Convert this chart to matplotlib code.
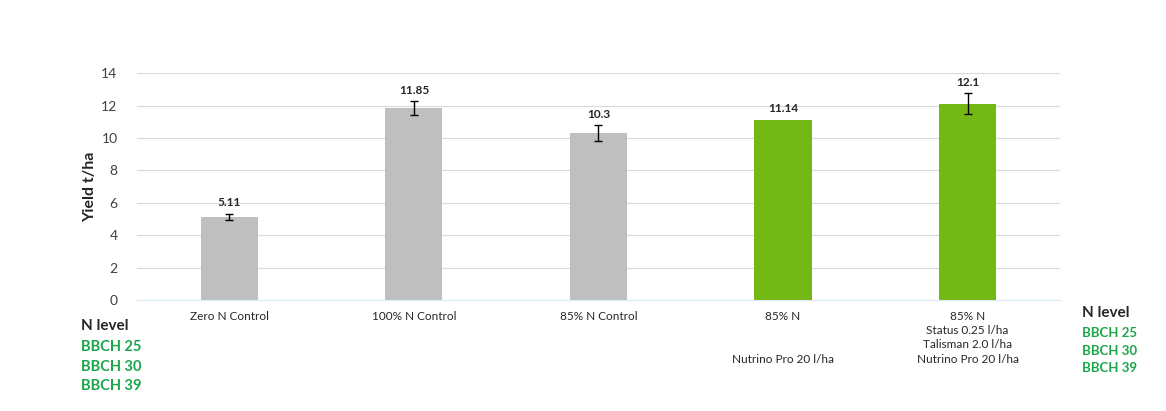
import numpy as np
import matplotlib.pyplot as plt

plt.rcParams['font.family'] = ['Lato', 'DejaVu Sans']

# Yield data
categories = ["Zero N Control", "100% N Control", "85% N Control", "85% N\n\n\nNutrino Pro 20 l/ha",
              "85% N\nStatus 0.25 l/ha\nTalisman 2.0 l/ha\nNutrino Pro 20 l/ha"]
yields = [5.11, 11.85, 10.3, 11.14, 12.1]
errors = [0.2, 0.41, 0.49, 0.0, 0.65]
value_labels = ["5.11", "11.85", "10.3", "11.14", "12.1"]
bar_colors = ["#bfbfbf", "#bfbfbf", "#bfbfbf", "#74b816", "#74b816"]
stage_labels = ["BBCH 25", "BBCH 30", "BBCH 39"]

fig = plt.figure(figsize=(11.66, 4.11), dpi=100)
ax = fig.add_axes([0.1175, 0.27, 0.7915, 0.552])

x = np.arange(len(categories))
ax.bar(x, yields, width=0.31, color=bar_colors, zorder=2)
for i in range(len(x)):
    if errors[i] > 0:
        ax.errorbar(x[i], yields[i], yerr=errors[i], fmt='none', ecolor='black',
                    elinewidth=1, capsize=3, capthick=1, zorder=3)
    ax.text(x[i], yields[i] + errors[i] + 0.35, value_labels[i], ha='center', va='bottom',
            fontsize=8.5, fontweight='bold', color='#262626')

ax.set_xlim(-0.5, len(categories) - 0.5)
ax.set_ylim(0, 14)
ax.set_yticks(np.arange(0, 15, 2))
ax.set_xticks(x)
ax.set_xticklabels(categories, fontsize=8.5, color='#262626', linespacing=1.35)
ax.tick_params(axis='both', length=0)
ax.tick_params(axis='y', labelsize=10, colors='#404040', pad=14)
ax.tick_params(axis='x', pad=8)
ax.yaxis.grid(True, color='#d9d9d9', linewidth=0.8, zorder=0)
for s in ['top', 'right', 'left']:
    ax.spines[s].set_visible(False)
ax.spines['bottom'].set_color('#dbeaf5')
ax.set_ylabel("Yield t/ha", fontsize=11.5, fontweight='bold', color='#262626')
ax.yaxis.set_label_coords(-0.043, 0.5)

# N level legend texts
green = "#1aa64a"
fig.text(81 / 1166, 1 - 326 / 411, "N level", fontsize=11, fontweight='bold', color='#262626', va='center')
for k, lab in enumerate(stage_labels):
    fig.text(81 / 1166, 1 - (347 + 19.5 * k) / 411, lab, fontsize=10.5, fontweight='bold', color=green, va='center')
fig.text(1082 / 1166, 1 - 313 / 411, "N level", fontsize=11, fontweight='bold', color='#262626', va='center')
for k, lab in enumerate(stage_labels):
    fig.text(1082 / 1166, 1 - (333 + 17.5 * k) / 411, lab, fontsize=9.5, fontweight='bold', color=green, va='center')

fig.savefig("out.png", dpi=100)
